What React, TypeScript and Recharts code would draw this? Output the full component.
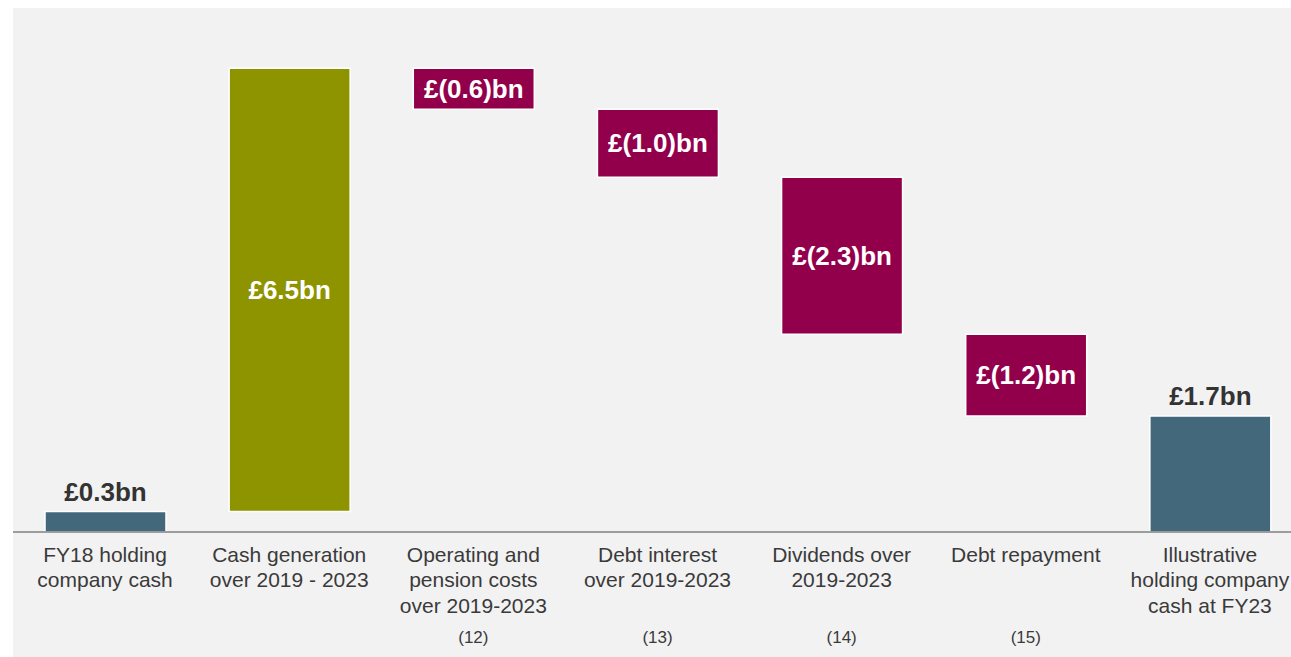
import { BarChart, Bar, XAxis, YAxis, Cell, LabelList } from 'recharts';

const categories = [
  'FY18 holding\ncompany cash',
  'Cash generation\nover 2019 - 2023',
  'Operating and\npension costs\nover 2019-2023',
  'Debt interest\nover 2019-2023',
  'Dividends over\n2019-2023',
  'Debt repayment',
  'Illustrative\nholding company\ncash at FY23',
];
const values = [0.3, 6.5, -0.6, -1.0, -2.3, -1.2, 1.7];
const isTotal = [true, false, false, false, false, false, true];
const valueLabels = ['£0.3bn', '£6.5bn', '£(0.6)bn', '£(1.0)bn', '£(2.3)bn', '£(1.2)bn', '£1.7bn'];
const notes = ['', '', '(12)', '(13)', '(14)', '(15)', ''];

const FONT = '"Liberation Sans", Arial, sans-serif';
const TOTAL = '#44687b';
const UP = '#8e9400';
const DOWN = '#92004b';

// running total -> [low, high] for each step
let running = 0;
const rows = categories.map((name, i) => {
  const v = values[i];
  let lo: number;
  let hi: number;
  if (isTotal[i]) {
    lo = 0;
    hi = v;
    running = v;
  } else {
    const next = running + v;
    lo = Math.min(running, next);
    hi = Math.max(running, next);
    running = next;
  }
  return { name, range: [lo, hi], label: valueLabels[i], idx: i };
});

const colorFor = (i: number) => (isTotal[i] ? TOTAL : values[i] >= 0 ? UP : DOWN);

function CategoryTick(props: any) {
  const { x, y, payload } = props;
  const i = payload.index;
  const lines = String(payload.value).split('\n');
  return (
    <g>
      <text
        x={x}
        y={y}
        textAnchor="middle"
        fill="#3a3a3a"
        fontSize={21}
        fontFamily={FONT}
      >
        {lines.map((l, k) => (
          <tspan key={k} x={x} y={y + 22 + k * 25.5} dominantBaseline="central">
            {l}
          </tspan>
        ))}
      </text>
      {notes[i] ? (
        <text
          x={x}
          y={y + 105}
          textAnchor="middle"
          dominantBaseline="central"
          fill="#3a3a3a"
          fontSize={17}
          fontFamily={FONT}
        >
          {notes[i]}
        </text>
      ) : null}
    </g>
  );
}

function ValueLabel(props: any) {
  const { x, y, width, height, index, value } = props;
  const top = Math.min(y, y + height);
  const h = Math.abs(height);
  const cx = x + width / 2;
  const outside = isTotal[index];
  return (
    <text
      x={cx}
      y={outside ? top - 20 : top + h / 2}
      textAnchor="middle"
      dominantBaseline="central"
      fill={outside ? '#333333' : '#ffffff'}
      fontSize={26}
      fontWeight="bold"
      fontFamily={FONT}
    >
      {value}
    </text>
  );
}

export default function App() {
  return (
    <div
      style={{
        position: 'absolute',
        left: 13,
        top: 8,
        width: 1278,
        height: 649,
        background: '#f2f2f2',
        overflow: 'hidden',
      }}
    >
      <BarChart
        width={1289}
        height={649}
        data={rows}
        margin={{ top: 12.5, right: 0, left: 0, bottom: 5 }}
      >
        <XAxis
          dataKey="name"
          interval={0}
          height={120}
          tickLine={false}
          tickSize={0}
          tickMargin={0}
          axisLine={{ stroke: '#808080', strokeWidth: 1.5 }}
          tick={<CategoryTick />}
        />
        <YAxis hide domain={[0, 7.5]} allowDataOverflow />
        <Bar
          dataKey="range"
          barSize={121}
          stroke="#ffffff"
          strokeWidth={1.5}
          isAnimationActive={false}
        >
          {rows.map((r) => (
            <Cell key={r.idx} fill={colorFor(r.idx)} />
          ))}
          <LabelList dataKey="label" content={<ValueLabel />} />
        </Bar>
      </BarChart>
    </div>
  );
}
